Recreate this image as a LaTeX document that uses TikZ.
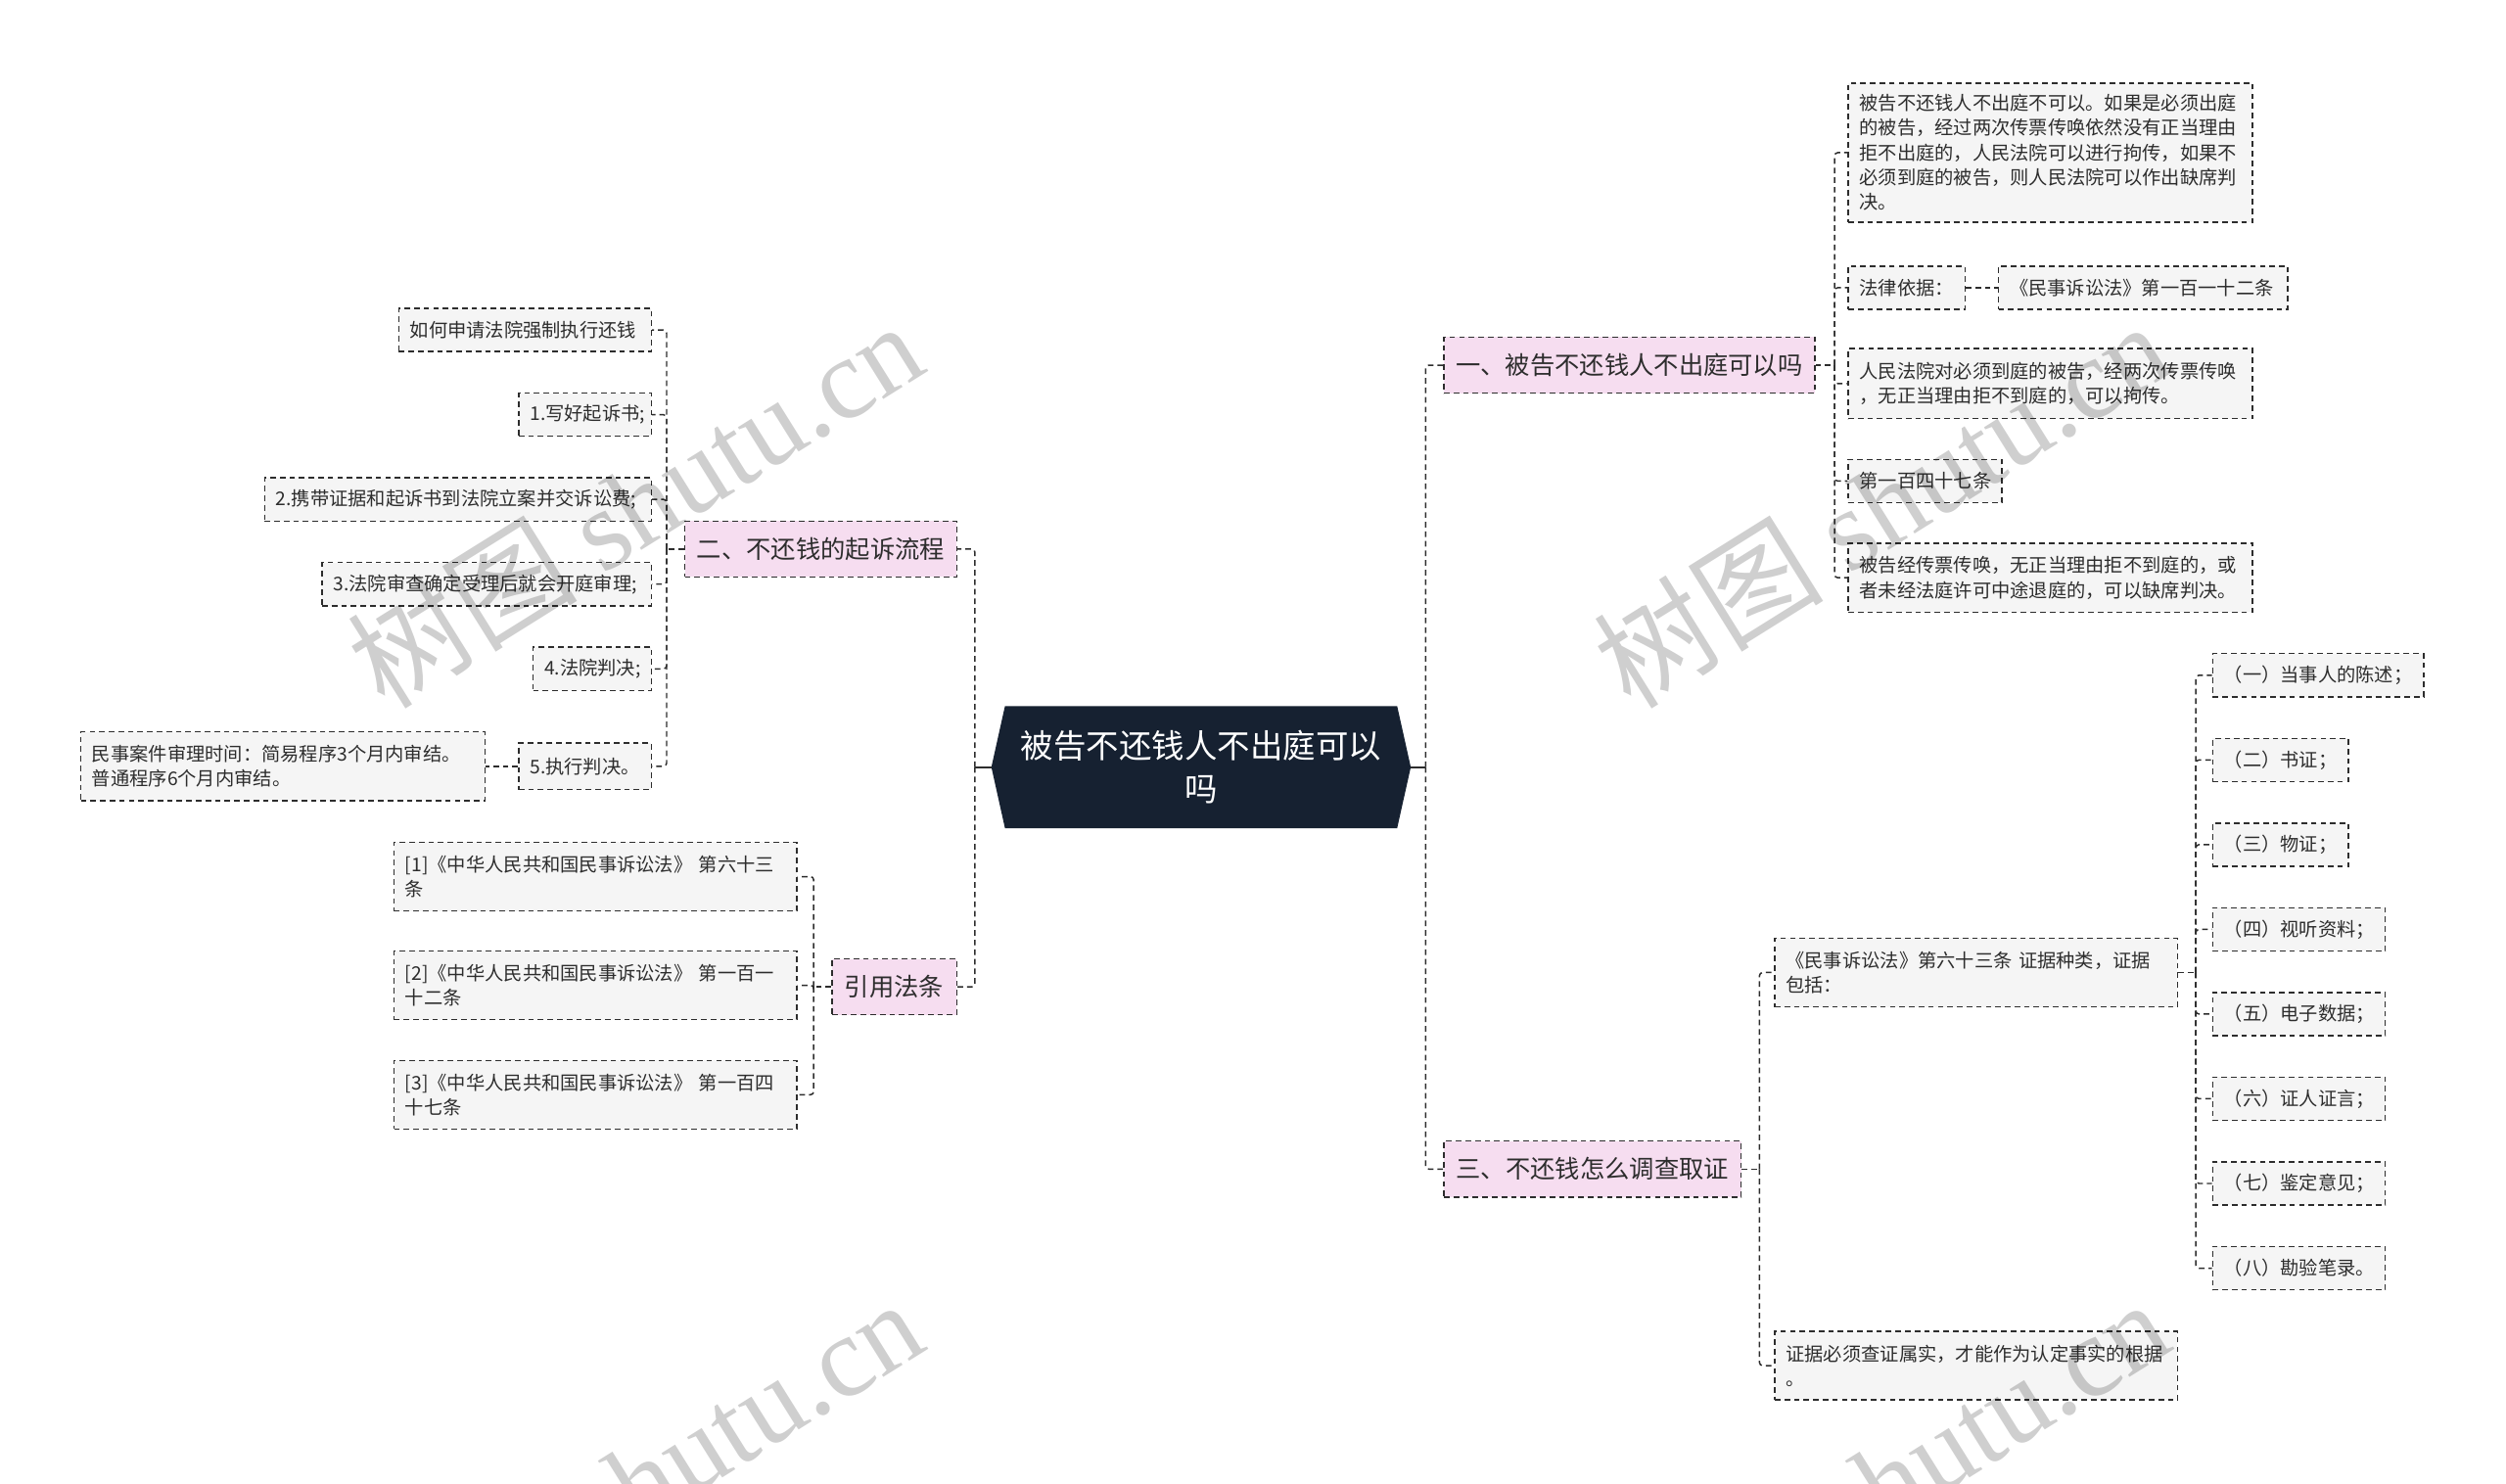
\documentclass[tikz,border=0pt]{standalone}
\usepackage{fontspec}
\setmainfont{Noto Sans CJK SC}
\newfontfamily\wmserif{Liberation Serif}
\usetikzlibrary{backgrounds,calc}
\definecolor{linec}{RGB}{45,45,45}
\definecolor{leafc}{RGB}{245,245,245}
\definecolor{pinkc}{RGB}{246,221,240}
\definecolor{rootc}{RGB}{22,33,49}
\definecolor{txtc}{RGB}{45,45,45}
\tikzset{
  dsh/.style={line width=0.9pt, dash pattern=on 3.5pt off 2.5pt},
  conn/.style={draw=linec, dsh, rounded corners=2pt},
  solidc/.style={draw=linec, line width=1.3pt},
  leaf/.style={draw=linec, dsh, fill=leafc, text=txtc, font=\fontsize{11.8}{15.5}\selectfont, align=left, inner xsep=7pt, inner ysep=0pt, minimum height=27pt},
  branch/.style={draw=linec, dsh, fill=pinkc, text=txtc, font=\fontsize{15.5}{19}\selectfont, inner xsep=7pt, inner ysep=0pt, minimum height=35pt},
  rootn/.style={text=white, font=\fontsize{20.5}{27}\selectfont, align=center, minimum width=245pt, minimum height=76pt, inner sep=0pt},
  wm/.style={text=black, text opacity=0.19, rotate=32, font=\fontsize{72}{72}\selectfont, inner sep=0pt}
}
\begin{document}
\begin{tikzpicture}[x=1pt,y=-1pt]
\useasboundingbox (0,0) rectangle (1568,928);
% root
\node[rootn] (root) at (751.5,480) {被告不还钱人不出庭可以\\吗};
\begin{scope}[on background layer]
\fill[white] (0,0) rectangle (1568,928);
\fill[rootc] (root.north west) -- (root.north east) -- ($(root.east)+(8.5,0)$) -- (root.south east) -- (root.south west) -- ($(root.west)+(-8.5,0)$) -- cycle;
\end{scope}
% branches
\node[branch, anchor=west, minimum width=232pt] (b1) at (903,228.5) {一、被告不还钱人不出庭可以吗};
\node[branch, anchor=west, minimum width=186pt] (b3) at (903,731.5) {三、不还钱怎么调查取证};
\node[branch, anchor=east, minimum width=170pt] (b2) at (599,343.5) {二、不还钱的起诉流程};
\node[branch, anchor=east, minimum width=78pt] (b4) at (599,617.5) {引用法条};
% branch 1 leaves
\node[leaf, anchor=west, text width=239pt, minimum height=87pt] (l1a) at (1156,95.5) {被告不还钱人不出庭不可以。如果是必须出庭\\的被告，经过两次传票传唤依然没有正当理由\\拒不出庭的，人民法院可以进行拘传，如果不\\必须到庭的被告，则人民法院可以作出缺席判\\决。};
\node[leaf, anchor=west, text width=59pt] (l1b) at (1156,180) {法律依据：};
\node[leaf, anchor=west, text width=167pt] (l1b2) at (1250,180) {《民事诉讼法》第一百一十二条};
\node[leaf, anchor=west, text width=239pt, minimum height=44pt] (l1c) at (1156,240) {人民法院对必须到庭的被告，经两次传票传唤\\，无正当理由拒不到庭的，可以拘传。};
\node[leaf, anchor=west, text width=82pt] (l1d) at (1156,301) {第一百四十七条};
\node[leaf, anchor=west, text width=239pt, minimum height=43pt] (l1e) at (1156,361.5) {被告经传票传唤，无正当理由拒不到庭的，或\\者未经法庭许可中途退庭的，可以缺席判决。};
% branch 3 leaves
\node[leaf, anchor=west, text width=238pt, minimum height=43pt] (l3a) at (1110,608.5) {《民事诉讼法》第六十三条 证据种类，证据\\包括：};
\node[leaf, anchor=west, text width=238pt, minimum height=43pt] (l3b) at (1110,854.5) {证据必须查证属实，才能作为认定事实的根据\\。};
\node[leaf, anchor=west, text width=118pt] (e1) at (1384,422.5) {（一）当事人的陈述；};
\node[leaf, anchor=west, text width=71pt] (e2) at (1384,475.5) {（二）书证；};
\node[leaf, anchor=west, text width=71pt] (e3) at (1384,528.5) {（三）物证；};
\node[leaf, anchor=west, text width=94pt] (e4) at (1384,581.5) {（四）视听资料；};
\node[leaf, anchor=west, text width=94pt] (e5) at (1384,634.5) {（五）电子数据；};
\node[leaf, anchor=west, text width=94pt] (e6) at (1384,687.5) {（六）证人证言；};
\node[leaf, anchor=west, text width=94pt] (e7) at (1384,740.5) {（七）鉴定意见；};
\node[leaf, anchor=west, text width=94pt] (e8) at (1384,793.5) {（八）勘验笔录。};
% branch 2 leaves
\node[leaf, anchor=east, text width=144pt] (l2a) at (408,206.5) {如何申请法院强制执行还钱};
\node[leaf, anchor=east, text width=69pt] (l21) at (408,259.5) {1.写好起诉书;};
\node[leaf, anchor=east, text width=228pt] (l22) at (408,312.5) {2.携带证据和起诉书到法院立案并交诉讼费;};
\node[leaf, anchor=east, text width=192pt] (l23) at (408,365.5) {3.法院审查确定受理后就会开庭审理;};
\node[leaf, anchor=east, text width=60pt] (l24) at (408,418.5) {4.法院判决;};
\node[leaf, anchor=east, text width=69pt, minimum height=29pt] (l25) at (408,479.5) {5.执行判决。};
\node[leaf, anchor=east, text width=239pt, minimum height=43pt] (l25c) at (304,479.5) {民事案件审理时间：简易程序3个月内审结。\\普通程序6个月内审结。};
% branch 4 leaves
\node[leaf, anchor=east, text width=238pt, minimum height=43pt] (r1) at (499,548.5) {[1]《中华人民共和国民事诉讼法》 第六十三\\条};
\node[leaf, anchor=east, text width=238pt, minimum height=43pt] (r2) at (499,616.5) {[2]《中华人民共和国民事诉讼法》 第一百一\\十二条};
\node[leaf, anchor=east, text width=238pt, minimum height=43pt] (r3) at (499,685) {[3]《中华人民共和国民事诉讼法》 第一百四\\十七条};
% connectors from root
\coordinate (JL) at (610,480);
\coordinate (JR) at (892,480);
\draw[solidc] ($(root.west)+(-8.5,0)$) -- (JL);
\draw[solidc] ($(root.east)+(8.5,0)$) -- (JR);
\draw[conn] (JL) |- (b2.east);
\draw[conn] (JL) |- (b4.east);
\draw[conn] (JR) |- (b1.west);
\draw[conn] (JR) |- (b3.west);
% branch 1
\coordinate (j1) at ($(b1.east)+(12,0)$);
\draw[conn] (b1.east) -- (j1);
\foreach \c in {l1a,l1b,l1c,l1d,l1e} {\draw[conn] (j1) |- (\c.west);}
\draw[conn] (l1b.east) -- (l1b2.west);
% branch 3
\coordinate (j3) at ($(b3.east)+(11,0)$);
\draw[conn] (b3.east) -- (j3);
\foreach \c in {l3a,l3b} {\draw[conn] (j3) |- (\c.west);}
\coordinate (j3a) at ($(l3a.east)+(11,0)$);
\draw[conn] (l3a.east) -- (j3a);
\foreach \c in {e1,e2,e3,e4,e5,e6,e7,e8} {\draw[conn] (j3a) |- (\c.west);}
% branch 2
\coordinate (j2) at ($(b2.west)+(-11,0)$);
\draw[conn] (b2.west) -- (j2);
\foreach \c in {l2a,l21,l22,l23,l24,l25} {\draw[conn] (j2) |- (\c.east);}
\draw[conn] (l25.west) -- (l25c.east);
% branch 4
\coordinate (j4) at ($(b4.west)+(-11,0)$);
\draw[conn] (b4.west) -- (j4);
\foreach \c in {r1,r2,r3} {\draw[conn] (j4) |- (\c.east);}
% watermarks
\begin{scope}
\clip (0,0) rectangle (1568,928);
\node[wm] (wm1) at (397,315) {树图 {\wmserif shutu.cn}};
\node[wm] (wm2) at (1177,315) {树图 {\wmserif shutu.cn}};
\node[wm] (wm3) at (397,927) {树图 {\wmserif shutu.cn}};
\node[wm] (wm4) at (1177,927) {树图 {\wmserif shutu.cn}};
\end{scope}
\end{tikzpicture}
\end{document}
